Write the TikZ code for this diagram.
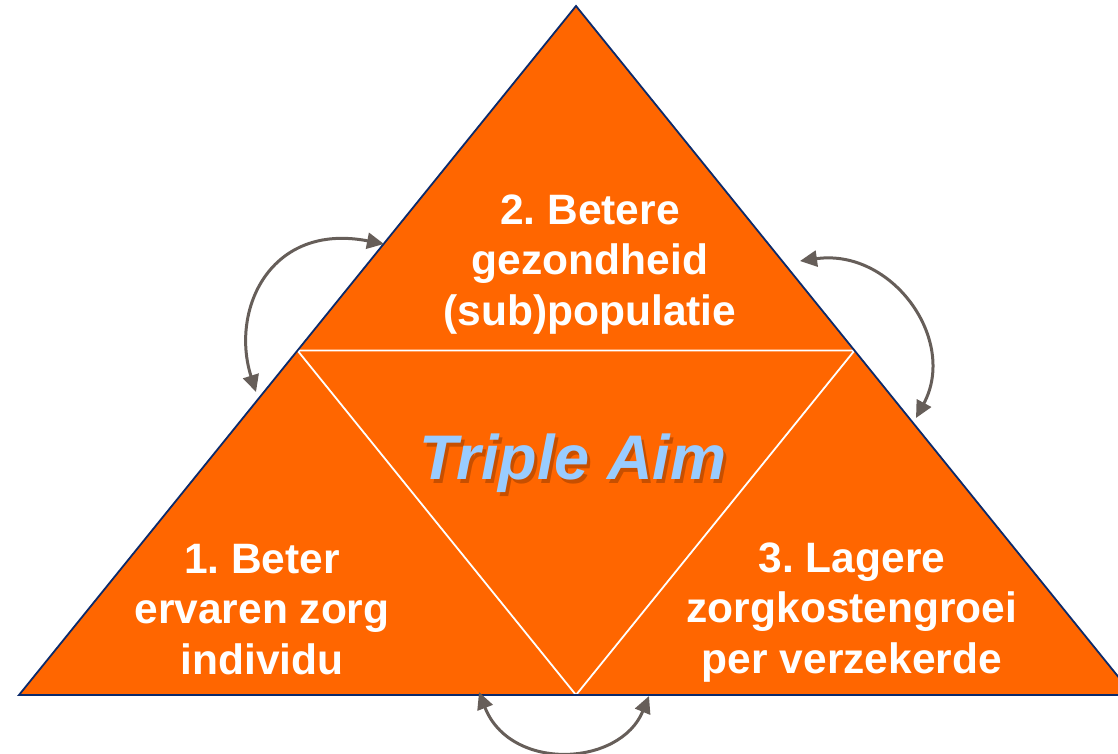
\documentclass[tikz,border=0pt]{standalone}
\usepackage{fontspec}
\setmainfont{Liberation Sans}
\frenchspacing
\usetikzlibrary{arrows.meta}
\definecolor{tri}{HTML}{FF6600}
\definecolor{edge}{HTML}{0B2A6B}
\definecolor{arr}{HTML}{665E59}
\definecolor{aim}{HTML}{99CCFF}
\begin{document}
\begin{tikzpicture}[x=1pt,y=-1pt,
  label/.style={align=center,text=white,inner sep=0pt,font=\fontsize{42.5}{50.5}\selectfont\bfseries},
  aimfont/.style={inner sep=0pt,font=\fontsize{63}{66}\selectfont\bfseries\itshape},
  cyc/.style={draw=arr,line width=3pt,{Triangle[length=17pt,width=16pt]}-{Triangle[length=17pt,width=16pt]}}]
\useasboundingbox (0,0) rectangle (1118,754);
\clip (0,0) rectangle (1118,754);
\coordinate (A) at (576,6);
\coordinate (L) at (19,695);
\coordinate (R) at (1133,695);
\coordinate (ML) at (297.5,350.5);
\coordinate (MR) at (854.5,350.5);
\coordinate (MB) at (576,695);
\fill[tri] (A) -- (L) -- (R) -- cycle;
\draw[white,line width=1.8pt] (ML) -- (MR) -- (MB) -- cycle;
\draw[edge,line width=1.8pt,line join=miter] (A) -- (L) -- (R) -- cycle;
% texts
\node[label,anchor=base] (t2) at (590,325) {2. Betere\\gezondheid\\(sub)populatie};
\node[label,anchor=base] (t1) at (262,674) {1. Beter\\ervaren zorg\\individu};
\node[label,anchor=base] (t3) at (852,673) {3. Lagere\\zorgkostengroei\\per verzekerde};
\node[aimfont,text=black,opacity=0.22] (shadow) at (576,467) {Triple Aim};
\node[aimfont,text=aim] (aimtext) at (573,463) {Triple Aim};
% cycle arrows
\coordinate (a1s) at (256,392);
\coordinate (a1e) at (384,244);
\coordinate (a2s) at (800,261);
\coordinate (a2e) at (916,418);
\coordinate (a3s) at (479,692);
\coordinate (a3e) at (649,696);
\draw[cyc] (a1s) .. controls (230,310) and (270,222) .. (a1e);
\draw[cyc] (a2s) .. controls (892,248) and (958,340) .. (a2e);
\draw[cyc] (a3s) .. controls (510,772) and (620,767) .. (a3e);
\end{tikzpicture}
\end{document}
